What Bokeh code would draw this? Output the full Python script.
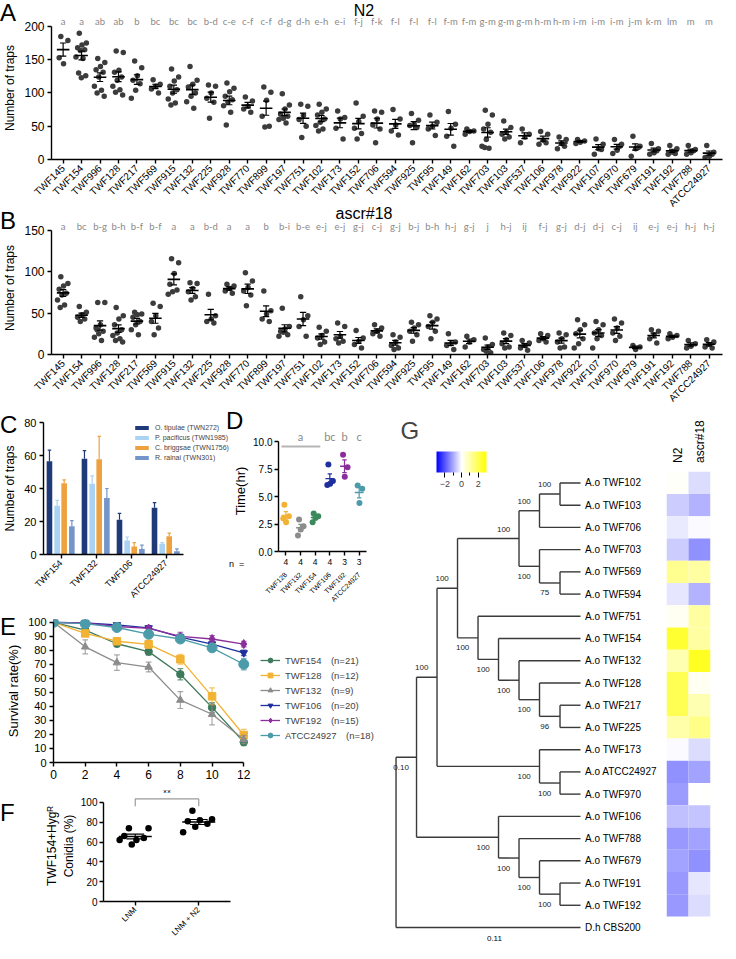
import math
import numpy as np
from bokeh.plotting import figure
from bokeh.layouts import column, row
from bokeh.models import (Range1d, FixedTicker, LinearAxis, Label, Legend, LegendItem,
                          LinearColorMapper, ColorBar, FactorRange, NumeralTickFormatter,
                          ColumnDataSource, Div)
from bokeh.core.properties import value
from bokeh.embed import file_html
from bokeh.resources import INLINE

FONT = "Liberation Sans"
LFONT = "Lato"

# ---------------- Panel A / B data ----------------
strains = ["TWF145", "TWF154", "TWF996", "TWF128", "TWF217", "TWF569", "TWF915", "TWF132",
           "TWF225", "TWF928", "TWF770", "TWF899", "TWF197", "TWF751", "TWF102", "TWF173",
           "TWF152", "TWF706", "TWF594", "TWF925", "TWF95", "TWF149", "TWF162", "TWF703",
           "TWF103", "TWF537", "TWF106", "TWF978", "TWF922", "TWF107", "TWF970", "TWF679",
           "TWF191", "TWF192", "TWF788", "ATCC24927"]
a_letters = ["a", "a", "ab", "ab", "b", "bc", "bc", "bc", "b-d", "c-e", "c-f", "c-f", "d-g", "d-h",
             "e-h", "e-i", "f-j", "f-k", "f-l", "f-l", "f-l", "f-m", "f-m", "g-m", "g-m", "g-m",
             "h-m", "h-m", "i-m", "i-m", "i-m", "j-m", "k-m", "lm", "m", "m"]
a_traps = [
    [185, 179, 144, 153], [190, 175, 172, 168, 165, 164, 154, 152, 130, 126, 123],
    [152, 146, 140, 135, 131, 124, 110, 104, 100, 95], [163, 161, 134, 131, 124, 119, 110, 105, 101, 97],
    [148, 138, 126, 119, 114, 104, 92], [120, 113, 110, 106, 100],
    [136, 124, 118, 110, 105, 100, 91, 85, 82], [140, 119, 113, 109, 100, 95, 87, 77],
    [112, 110, 100, 92, 86, 62], [115, 107, 102, 95, 90, 86, 81, 71, 52],
    [94, 88, 80, 76, 71], [109, 101, 89, 65, 50, 49], [99, 82, 76, 68, 65, 62, 60, 55],
    [83, 80, 66, 60, 50, 33], [83, 76, 71, 67, 61, 56, 51, 46, 43], [73, 63, 61, 47, 31],
    [85, 65, 57, 47, 39, 31], [73, 71, 61, 52, 46, 25], [75, 61, 52, 43, 37],
    [69, 59, 53, 51, 48, 25], [67, 56, 50, 46, 36], [72, 53, 47, 35, 20], [46, 43, 42, 38],
    [74, 67, 53, 46, 41, 30, 20, 17, 18], [58, 48, 41, 38, 34, 31], [46, 38, 34, 25],
    [42, 38, 29, 23, 25], [34, 30, 24, 16, 20], [30, 28, 26, 24], [31, 23, 16, 8, 15],
    [30, 23, 14, 9, 20], [35, 20, 16, 5, 18], [24, 16, 10, 8, 13], [21, 16, 11, 8, 9],
    [21, 15, 10, 8, 13], [21, 11, 5, 3, 8]]
b_letters = ["a", "bc", "b-g", "b-h", "b-f", "b-f", "a", "a", "b-d", "a", "a", "b", "b-i", "b-e",
             "e-j", "e-j", "g-j", "c-j", "g-j", "b-j", "b-h", "h-j", "g-j", "j", "h-j", "ij", "f-j",
             "g-j", "d-j", "d-j", "c-j", "ij", "e-j", "e-j", "h-j", "h-j"]
b_traps = [
    [94, 86, 83, 79, 74, 72, 66, 60, 57], [58, 51, 48, 45, 43, 40],
    [63, 63, 36, 32, 28, 25, 21, 17, 30], [57, 47, 43, 36, 30, 26, 23, 19, 17, 15],
    [51, 49, 48, 45, 40, 36, 30, 24], [62, 58, 47, 40, 32, 24], [116, 111, 98, 85, 78, 76, 73],
    [87, 86, 80, 76, 70, 66], [73, 47, 43, 40, 38], [85, 83, 80, 77, 74],
    [99, 89, 81, 77, 72, 59], [77, 53, 49, 43, 40], [56, 34, 31, 28, 24, 27, 22],
    [70, 47, 42, 34, 22], [33, 28, 23, 20, 15, 12], [38, 34, 22, 19, 16, 14],
    [29, 20, 16, 12, 8], [36, 32, 28, 25, 22], [24, 21, 15, 11, 8, 6],
    [39, 36, 32, 28, 24, 16], [47, 43, 39, 34, 28, 19], [25, 15, 13, 11, 6], [22, 18, 15, 9],
    [20, 12, 9, 6, 2, 4], [26, 23, 18, 13, 9, 8], [17, 14, 11, 8, 5], [25, 23, 19, 17, 15],
    [26, 24, 19, 15, 9, 8], [42, 36, 30, 25, 19, 13, 8], [40, 36, 30, 26, 23, 19, 8],
    [43, 38, 32, 26, 22, 17], [11, 9, 6], [30, 28, 24, 19, 14], [25, 23, 21, 19],
    [17, 13, 10, 8], [18, 15, 12, 9, 8]]

# ---------------- Panel C data ----------------
c_strains = ["TWF154", "TWF132", "TWF106", "ATCC24927"]
c_species = ["O. tipulae (TWN272)", "P. pacificus (TWN1985)", "C. briggsae (TWN1756)", "R. rainai (TWN301)"]
c_tipulae = [56.5, 58.0, 21.0, 28.3]
c_pacificus = [29.6, 42.9, 8.5, 6.5]
c_briggsae = [43.2, 57.8, 4.9, 11.0]
c_rainai = [17.1, 34.3, 3.4, 1.9]
c_tipulae_err = [6.7, 4.9, 3.9, 3.2]
c_pacificus_err = [3.2, 4.7, 2.1, 0.7]
c_briggsae_err = [2.0, 13.8, 2.3, 1.9]
c_rainai_err = [3.4, 5.7, 2.3, 1.5]
c_colors = ["#1f3a78", "#a9d2f3", "#eea23f", "#7494ca"]

# ---------------- Panel D data ----------------
d_strains = ["TWF128", "TWF132", "TWF154", "TWF106", "TWF192", "ATCC24927"]
d_n = ["4", "4", "4", "4", "3", "3"]
d_hours = [[4.25, 3.2, 2.65, 3.0], [2.9, 2.3, 2.0, 1.45], [3.45, 3.2, 3.05, 2.65],
           [7.9, 6.4, 6.15, 6.05], [8.8, 7.65, 6.8], [6.0, 5.7, 4.4]]
d_letters = ["", "a", "", "bc", "b", "c"]
d_colors = ["#f2b233", "#8c8c8c", "#3b8a5e", "#1f2f9e", "#8a2e9c", "#4c9bab"]

# ---------------- Panel E data ----------------
e_hours = [0, 2, 4, 6, 8, 10, 12]
e_names = ["TWF154", "TWF128", "TWF132", "TWF106", "TWF192", "ATCC24927"]
e_n = ["(n=21)", "(n=12)", "(n=9)", "(n=20)", "(n=15)", "(n=18)"]
e_twf154 = [100, 94.4, 84.7, 79.1, 62.9, 39.3, 14.6]
e_twf128 = [100, 92.1, 86.5, 84.3, 73.7, 47.2, 19.6]
e_twf132 = [100, 82.5, 71.2, 68.1, 44.5, 34.4, 16.4]
e_twf106 = [100, 99.5, 98.2, 96.0, 89.5, 84.5, 78.2]
e_twf192 = [100, 99.5, 97.0, 95.6, 89.9, 88.1, 84.5]
e_atcc = [100, 99.0, 96.3, 91.5, 88.1, 81.8, 70.1]
e_twf154_err = [0, 1.5, 2, 2.5, 4, 3.5, 2.5]
e_twf128_err = [0, 2, 2, 3, 3.5, 6, 4]
e_twf132_err = [0, 5, 5.5, 3.5, 6, 7.5, 3]
e_twf106_err = [0, 1, 1, 1.5, 2, 2, 2]
e_twf192_err = [0, 1, 1, 1.5, 3, 2.5, 2]
e_atcc_err = [0, 1, 1, 2, 2, 2.5, 4]
e_colors = ["#3d7a5c", "#f2b233", "#8c8c8c", "#1f2f9e", "#8a2e9c", "#4c9bab"]
e_markers = ["circle", "square", "triangle", "inverted_triangle", "diamond", "circle"]

# ---------------- Panel F data ----------------
f_groups = ["LNM", "LNM + N2"]
f_conidia = [[74, 74, 62, 66, 64, 57.5, 62], [91.5, 83, 82, 81, 78.5, 75.5, 70]]

# ---------------- Panel G data ----------------
leaves = ["A.o TWF102", "A.o TWF103", "A.o TWF706", "A.o TWF703", "A.o TWF569", "A.o TWF594",
          "A.o TWF751", "A.o TWF154", "A.o TWF132", "A.o TWF128", "A.o TWF217", "A.o TWF225",
          "A.o TWF173", "A.o ATCC24927", "A.o TWF970", "A.o TWF106", "A.o TWF788", "A.o TWF679",
          "A.o TWF191", "A.o TWF192", "D.h CBS200"]
node_names = ["J", "H", "K", "I", "F", "N", "M2", "M", "L", "G", "D", "P", "E", "B", "S", "R",
              "Q", "C", "A", "root"]
node_depth = [8, 7, 8, 7, 6, 8, 7, 6, 5, 4, 3, 8, 7, 2, 8, 7, 6, 5, 1, 0]
node_children = [[0, 1], ["J", 2], [4, 5], [3, "K"], ["H", "I"], [10, 11], [9, "N"], [8, "M2"],
                 [7, "M"], [6, "L"], ["F", "G"], [13, 14], [12, "P"], ["D", "E"], [18, 19],
                 [17, "S"], [16, "R"], [15, "Q"], ["B", "C"], ["A", 20]]
node_support = ["100", "100", "75", "100", "100", "96", "100", "100", "100", "100", "100", "100",
                "100", "100", "100", "100", "100", "100", "0.10", ""]
node_side = ["above", "above", "below", "below", "above", "below", "below", "below", "below",
             "below", "above", "below", "below", "above", "below", "below", "below", "below",
             "below", "below"]
leaf_depth = 9
outgroup_length = "0.11"
heat_conditions = ["N2", "ascr#18"]
heat_n2 = [0.05, -0.6, -0.25, -0.6, 1.3, -0.3, 0.15, 2.4, 0.9, 2.0, 2.0, 1.0, -0.05, -1.3,
           -1.15, -0.75, -1.2, -1.1, -1.2, -1.2]
heat_ascr = [-0.4, -0.9, -0.05, -1.3, 1.1, -0.9, 1.1, 1.1, 2.6, 0.15, 0.9, 1.4, -0.4, -1.1,
             0.0, -0.7, -1.1, -1.3, -0.3, -0.4]


# ---------------- helpers ----------------
def new_fig(w, h, xr, yr, left, right, top, bottom):
    p = figure(width=w, height=h, x_range=xr, y_range=yr, output_backend="svg",
               toolbar_location=None, min_border_left=left, min_border_right=right,
               min_border_top=top, min_border_bottom=bottom)
    p.frame_align = False
    p.grid.visible = False
    p.outline_line_color = None
    p.background_fill_color = "white"
    p.border_fill_color = None
    return p


def style_axis(ax, size="11px"):
    ax.axis_line_width = 1.4
    ax.axis_line_color = "black"
    ax.major_tick_line_width = 1.4
    ax.major_tick_line_color = "black"
    ax.major_tick_in = 0
    ax.major_tick_out = 4
    ax.minor_tick_line_color = None
    ax.major_label_text_font = FONT
    ax.major_label_text_font_size = size
    ax.major_label_text_color = "black"
    ax.major_label_standoff = 3
    ax.axis_label_text_font = FONT
    ax.axis_label_text_font_style = "normal"
    ax.axis_label_text_font_size = "12px"
    ax.axis_label_text_color = "black"
    ax.axis_label_standoff = 4


def bare_axis(ax):
    ax.axis_line_color = None
    ax.major_tick_line_color = None
    ax.minor_tick_line_color = None


def spread(k, w=0.62):
    return [((j * 0.618034 + 0.3) % 1.0 - 0.5) * w for j in range(k)]


def mean_sem(p, xs, groups, half, cap, color="black", lw=1.6):
    means = np.array([np.mean(v) for v in groups])
    sems = np.array([np.std(v, ddof=1) / np.sqrt(len(v)) for v in groups])
    xs = np.asarray(xs, dtype=float)
    p.segment(xs - half, means, xs + half, means, color=color, line_width=lw)
    p.segment(xs, means - sems, xs, means + sems, color=color, line_width=1.2)
    p.segment(xs - cap, means + sems, xs + cap, means + sems, color=color, line_width=1.2)
    p.segment(xs - cap, means - sems, xs + cap, means - sems, color=color, line_width=1.2)


def span(text, left, top, size, center=False):
    shift = "transform:translateX(-50%);" if center else ""
    return ('<span style="position:absolute;left:%dpx;top:%dpx;font-size:%s;line-height:1;'
            'white-space:pre;%s">%s</span>' % (left, top, size, shift, text))


def overlay(w, h, spans):
    html = ('<div style="position:relative;width:%dpx;height:%dpx;font-family:\'Liberation Sans\';'
            'color:black;">%s</div>' % (w, h, "".join(spans)))
    return Div(text=html, width=w, height=h, margin=(0, 0, -h, 0),
               styles={"position": "relative", "z-index": "5", "pointer-events": "none"})


def dot_panel(traps, letters, ymax, ytop, yletter, ystep, height, top, bottom):
    n = len(strains)
    p = new_fig(728, height, Range1d(-0.63, n - 1 + 0.73), Range1d(0, ytop), 44, 6, top, bottom)
    xs, ys = [], []
    for i, vals in enumerate(traps):
        for off, v in zip(spread(len(vals)), vals):
            xs.append(i + off)
            ys.append(v)
    p.scatter(xs, ys, size=5.5, color="#3c3c3c", line_color=None)
    mean_sem(p, range(n), traps, 0.34, 0.17)
    p.text(list(range(n)), [yletter] * n, text=letters, text_font=value(LFONT),
           text_font_size="9.5px", text_color="#8a8a8a", text_align="center",
           text_baseline="middle")
    style_axis(p.xaxis[0], "10px")
    style_axis(p.yaxis[0], "12px")
    p.xaxis.ticker = FixedTicker(ticks=list(range(n)))
    p.xaxis.major_label_overrides = {i: s for i, s in enumerate(strains)}
    p.xaxis.major_label_orientation = math.pi / 4
    p.yaxis.ticker = FixedTicker(ticks=list(range(0, ymax + 1, ystep)))
    p.yaxis.bounds = (0, ymax)
    p.yaxis.axis_label = "Number of traps"
    return p


# ---------------- A, B ----------------
pA = dot_panel(a_traps, a_letters, 200, 215, 207.5, 50, 221, 16, 62)
pB = dot_panel(b_traps, b_letters, 150, 161, 155, 50, 195, 0, 62)
top_overlay = overlay(728, 232, [span("A", 0, 1, "24px"), span("N2", 364, 3, "16px", True),
                                 span("B", 0, 209, "24px"),
                                 span("ascr#18", 364, 206, "16px", True)])

# ---------------- C ----------------
pC = new_fig(230, 192, Range1d(-0.5, 4.84), Range1d(0, 80), 36, 0, 6, 54)
c_vals = [c_tipulae, c_pacificus, c_briggsae, c_rainai]
c_errs = [c_tipulae_err, c_pacificus_err, c_briggsae_err, c_rainai_err]
c_dodge = [-0.33, -0.11, 0.09, 0.31]
c_items = []
gx = np.arange(len(c_strains))
for vals, errs, col, off, name in zip(c_vals, c_errs, c_colors, c_dodge, c_species):
    xs = gx + off
    top = np.array(vals)
    err = np.array(errs)
    r = pC.vbar(x=xs, top=top, width=0.16, fill_color=col, line_color=None)
    pC.segment(xs, top, xs, top + err, color=col, line_width=1.2)
    pC.segment(xs - 0.05, top + err, xs + 0.05, top + err, color=col, line_width=1.2)
    c_items.append(LegendItem(label=name, renderers=[r]))
style_axis(pC.xaxis[0], "9px")
style_axis(pC.yaxis[0], "11px")
pC.xaxis.ticker = FixedTicker(ticks=list(range(4)))
pC.xaxis.major_label_overrides = {i: s for i, s in enumerate(c_strains)}
pC.xaxis.major_label_orientation = math.pi / 4
pC.xaxis.bounds = (-0.5, 3.5)
pC.yaxis.ticker = FixedTicker(ticks=[0, 20, 40, 60, 80])
pC.yaxis.axis_label = "Number of traps"
c_leg = Legend(items=c_items, location=(90, 93), padding=0, margin=0, spacing=2,
               glyph_width=17, glyph_height=5, label_height=8, label_standoff=5,
               label_text_font=FONT, label_text_font_size="7px", border_line_color=None,
               background_fill_alpha=0, label_text_line_height=1.0)
pC.add_layout(c_leg, "center")

# ---------------- D ----------------
pD = new_fig(140, 192, Range1d(-0.5, 5.5), Range1d(0, 11), 38, 4, 14, 54)
for i, (vals, col) in enumerate(zip(d_hours, d_colors)):
    xs = [i + o for o in spread(len(vals), 0.5)]
    pD.scatter(xs, vals, size=6, color=col, line_color=None)
    mean_sem(pD, [i], [vals], 0.3, 0.15, color=col, lw=1.4)
pD.segment(-0.3, 9.55, 2.35, 9.55, color="#b5b5b5", line_width=2)
pD.text(list(range(6)), [10.45] * 6, text=d_letters, text_font=value(LFONT),
        text_font_size="11px", text_color="#8a8a8a", text_align="center",
        text_baseline="middle")
style_axis(pD.xaxis[0], "8.5px")
style_axis(pD.yaxis[0], "10px")
pD.yaxis.major_label_standoff = 2
pD.yaxis.axis_label_standoff = 2
pD.xaxis.ticker = FixedTicker(ticks=list(range(6)))
pD.xaxis.major_label_overrides = {i: s for i, s in enumerate(d_n)}
pD.yaxis.ticker = FixedTicker(ticks=[0, 2.5, 5, 7.5, 10])
pD.yaxis.bounds = (0, 10)
pD.yaxis.formatter = NumeralTickFormatter(format="0.0")
pD.yaxis.axis_label = "Time(hr)"
pD.yaxis.axis_label_text_font_size = "13px"
name_ax = LinearAxis(ticker=FixedTicker(ticks=list(range(6))),
                     major_label_overrides={i: s for i, s in enumerate(d_strains)})
bare_axis(name_ax)
name_ax.major_label_orientation = math.pi / 4
name_ax.major_label_standoff = 0
name_ax.major_label_text_font = FONT
name_ax.major_label_text_font_size = "7px"
name_ax.major_label_text_color = "black"
pD.add_layout(name_ax, "below")

# ---------------- E ----------------
pE = new_fig(382, 176, Range1d(0, 20.75), Range1d(0, 102), 53, 0, 11, 22)
e_vals = [e_twf154, e_twf128, e_twf132, e_twf106, e_twf192, e_atcc]
e_errs = [e_twf154_err, e_twf128_err, e_twf132_err, e_twf106_err, e_twf192_err, e_atcc_err]
e_items = []
hx = np.array(e_hours, dtype=float)
for vals, errs, col, mk, name, nn in zip(e_vals, e_errs, e_colors, e_markers, e_names, e_n):
    v = np.array(vals)
    e = np.array(errs)
    pE.segment(hx, v - e, hx, v + e, color=col, line_width=1.2, alpha=0.75)
    pE.segment(hx - 0.18, v + e, hx + 0.18, v + e, color=col, line_width=1.2, alpha=0.75)
    pE.segment(hx - 0.18, v - e, hx + 0.18, v - e, color=col, line_width=1.2, alpha=0.75)
    lr = pE.line(hx, v, color=col, line_width=1.3)
    size = 10 if name == "ATCC24927" else (9 if mk == "diamond" else 7.5)
    sr = pE.scatter(hx, v, marker=mk, size=size, color=col, line_color=col)
    e_items.append(LegendItem(label=name + "\u2002\u2002" + nn, renderers=[lr, sr]))
style_axis(pE.xaxis[0], "12px")
style_axis(pE.yaxis[0], "11px")
pE.xaxis.ticker = FixedTicker(ticks=e_hours)
pE.xaxis.bounds = (0, 12)
pE.yaxis.ticker = FixedTicker(ticks=list(range(0, 101, 10)))
pE.yaxis.bounds = (0, 100)
pE.yaxis.axis_label = "Survival rate(%)"
pE.yaxis.axis_label_text_font_size = "13px"
e_leg = Legend(items=e_items, location=(207, 21), padding=0, margin=0, spacing=3,
               glyph_width=20, glyph_height=12, label_height=12, label_standoff=5,
               label_text_font=FONT, label_text_font_size="9.5px", border_line_color=None,
               background_fill_alpha=0)
pE.add_layout(e_leg, "center")

# ---------------- F ----------------
pF = new_fig(370, 159, Range1d(-0.5, 1.5), Range1d(0, 112), 103, 140, 6, 36)
for i, vals in enumerate(f_conidia):
    xs = [i + o for o in spread(len(vals), 0.5)]
    pF.scatter(xs, vals, size=6.5, color="black", line_color=None)
mean_sem(pF, [0, 1], f_conidia, 0.26, 0.14)
pF.line([0, 0, 1, 1], [96, 103.5, 103.5, 96], color="#9a9a9a", line_width=1.2)
pF.text([0.5], [108.5], text=["**"], text_font=value(FONT), text_font_size="10px",
        text_align="center", text_baseline="middle", text_color="black")
style_axis(pF.xaxis[0], "8px")
style_axis(pF.yaxis[0], "10px")
pF.yaxis.major_label_standoff = 2
pF.yaxis.axis_label_standoff = 2
pF.xaxis.ticker = FixedTicker(ticks=[0, 1])
pF.xaxis.major_label_overrides = {i: s for i, s in enumerate(f_groups)}
pF.xaxis.major_label_orientation = math.pi / 4
pF.yaxis.ticker = FixedTicker(ticks=list(range(0, 101, 20)))
pF.yaxis.bounds = (0, 100)
pF.yaxis.axis_label = "Conidia (%)"
pF.yaxis.axis_label_text_font_size = "12px"
f_extra = LinearAxis(ticker=FixedTicker(ticks=[]), axis_label="TWF154+Hyg\u1d3f")
bare_axis(f_extra)
f_extra.major_label_text_font_size = "1px"
f_extra.axis_label_standoff = 0
f_extra.axis_label_text_font = FONT
f_extra.axis_label_text_font_style = "normal"
f_extra.axis_label_text_font_size = "12px"
f_extra.axis_label_text_color = "black"
pF.add_layout(f_extra, "left")

low_overlay = overlay(382, 527, [span("C", 0, -3, "24px"), span("D", 226, -7, "24px"),
                                 span("n  =", 229, 144, "9px"), span("E", 0, 199, "24px"),
                                 span("F", 0, 385, "24px")])

# ---------------- G ----------------
yr = Range1d(20.72, -2.99)
pT = new_fig(280, 527, Range1d(-0.66, 13.0), yr, 0, 0, 0, 0)
pT.axis.visible = False
pos = {}


def where(c):
    if isinstance(c, int):
        return (leaf_depth, float(c))
    return pos[c]


hx0, hy0, hx1, hy1 = [], [], [], []
sup_x, sup_y, sup_t = [], [], []
for name, dep, ch, sup, side in zip(node_names, node_depth, node_children, node_support, node_side):
    cys = [where(c)[1] for c in ch]
    ymid = sum(cys) / len(cys)
    pos[name] = (dep, ymid)
    hx0.append(dep); hy0.append(min(cys)); hx1.append(dep); hy1.append(max(cys))
    for c in ch:
        cd, cy = where(c)
        hx0.append(dep); hy0.append(cy); hx1.append(cd); hy1.append(cy)
    if sup:
        sup_x.append(dep - 0.75)
        sup_y.append(ymid - 0.42 if side == "above" else ymid + 0.45)
        sup_t.append(sup)
pT.segment(hx0, hy0, hx1, hy1, color="#3a3a3a", line_width=1.4)
pT.text(sup_x, sup_y, text=sup_t, text_font=value(FONT), text_font_size="8px",
        text_align="center", text_baseline="middle", text_color="#222222")
pT.text([4.8], [len(leaves) - 1 + 0.5], text=[outgroup_length], text_font=value(FONT),
        text_font_size="8px", text_align="center", text_baseline="middle")
pT.text([leaf_depth + 0.22] * len(leaves), list(range(len(leaves))), text=leaves,
        text_font=value(FONT), text_font_size="10px", text_align="left",
        text_baseline="middle", text_color="black")

palette = []
for k in range(256):
    t = k / 255.0
    if t < 0.5:
        f = t / 0.5
        palette.append("#%02x%02x%02x" % (int(255 * f), int(255 * f), 255))
    else:
        f = (t - 0.5) / 0.5
        palette.append("#%02x%02x%02x" % (255, 255, int(255 * (1 - f))))
mapper = LinearColorMapper(palette=palette, low=-3, high=3)
cb = ColorBar(color_mapper=mapper, orientation="horizontal", width=50, height=21,
              location=(54, 454), padding=0, margin=0,
              ticker=FixedTicker(ticks=[-2, 0, 2], minor_ticks=[-1, 1]),
              major_label_text_font=FONT, major_label_text_font_size="9px",
              major_tick_line_color="black", major_tick_in=0, major_tick_out=5,
              minor_tick_line_color="black", minor_tick_in=0, minor_tick_out=3,
              bar_line_color=None, border_line_color=None, background_fill_alpha=0,
              label_standoff=3)
pT.add_layout(cb, "center")
pT.add_layout(Label(x=18, y=0, x_units="canvas", y_units="canvas", text="G",
                    text_font=FONT, text_font_size="24px", text_baseline="top"))

pH = new_fig(52, 527, FactorRange(*heat_conditions, range_padding=0), yr, 4, 4, 0, 0)
pH.axis.visible = False
n_a = len(heat_n2)
hsrc = ColumnDataSource(dict(x=[heat_conditions[0]] * n_a + [heat_conditions[1]] * n_a,
                             y=list(range(n_a)) * 2, v=heat_n2 + heat_ascr))
pH.rect(x="x", y="y", width=1, height=1, source=hsrc,
        fill_color={"field": "v", "transform": mapper}, line_color=None)
pH.text(x=heat_conditions, y=[-0.9, -0.9], text=heat_conditions, angle=math.pi / 2,
        text_font=value(FONT), text_font_size="12px", text_align="left",
        text_baseline="middle")

left_col = column(low_overlay, row(pC, pD), pE, pF)
layout = column(top_overlay, pA, pB, row(left_col, row(pT, pH)))
open("out.html", "w").write(file_html(layout, INLINE))
